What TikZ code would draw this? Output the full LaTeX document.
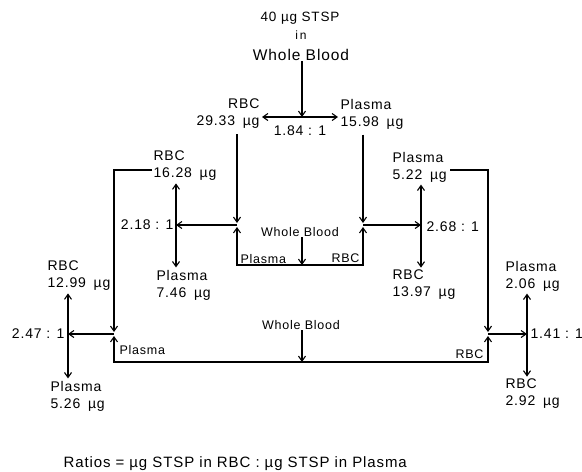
\documentclass[tikz,border=0pt]{standalone}
\usepackage{fontspec}
\setmainfont{Liberation Sans}[LetterSpace=6]
\usetikzlibrary{arrows.meta,calc}
\newcommand{\mcg}{\hspace{0.55em}µg}
\tikzset{
  lbl/.style={align=left,anchor=west,inner sep=0pt,font=\fontsize{14}{17}\selectfont},
  small/.style={inner sep=0pt,font=\fontsize{12.5}{14}\selectfont},
  ratio/.style={inner sep=0pt,font=\fontsize{14}{16}\selectfont},
}
\begin{document}
\begin{tikzpicture}[x=1pt,y=-1pt,>={Straight Barb[length=5pt,width=7pt]},line width=1.1pt]
  \useasboundingbox (0,0) rectangle (582,472);
  \coordinate (S0) at (302,117);
  \coordinate (J1) at (237,225);
  \coordinate (J2) at (363,225);
  \coordinate (A1) at (176,225);
  \coordinate (A2) at (421,225);
  \coordinate (B1L) at (237,265);
  \coordinate (B1R) at (363,265);
  \coordinate (C1) at (302,265);
  \coordinate (J3) at (114,334);
  \coordinate (J4) at (488,334);
  \coordinate (A3) at (68,334);
  \coordinate (A4) at (527,334);
  \coordinate (B2L) at (114,362);
  \coordinate (B2R) at (488,362);
  \coordinate (C2) at (302,362);
  % start
  \node[inner sep=0pt,font=\fontsize{13.5}{16}\selectfont] (stsp) at (300,18) {40 µg STSP};
  \node[inner sep=0pt,font=\fontsize{12}{14}\selectfont] (in) at (301,35) {i\,n};
  \node[inner sep=0pt,font=\fontsize{15.5}{18}\selectfont] (wb0) at (301,55) {Whole Blood};
  % first split
  \node[lbl,anchor=east,align=right] (rbc0) at (260,114) {RBC\\29.33\mcg};
  \node[lbl] (pl0) at (340,114) {Plasma\\15.98\mcg};
  \draw[->] (wb0.south -| S0) -- (S0);
  \draw[<->,shorten <=2pt,shorten >=2pt] (rbc0.east |- S0) -- (pl0.west |- S0);
  \node[ratio] (r0) at (300,131) {1.84 : 1};
  \draw[->,shorten <=5pt,shorten >=2pt] (rbc0.south -| J1) -- (J1);
  \draw[->,shorten <=5pt,shorten >=2pt] (pl0.south -| J2) -- (J2);
  % box 1
  \draw[<->,shorten <=2pt,shorten >=2pt] (J1) -- (B1L) -- (B1R) -- (J2);
  \node[small] (wb1) at (300,232) {Whole Blood};
  \draw[->] (wb1.south -| C1) -- (C1);
  \node[small,anchor=west] (pin1) at (240,259) {Plasma};
  \node[small,anchor=east] (rin1) at (360,258) {RBC};
  % middle left
  \node[lbl] (rbc1) at (153,166) {RBC\\16.28\mcg};
  \node[lbl] (pl1) at (156,285) {Plasma\\7.46\mcg};
  \draw[->] (J1) -- (A1);
  \draw[<->,shorten <=2pt,shorten >=2pt] (rbc1.south -| A1) -- (pl1.north -| A1);
  \node[ratio,anchor=east] (r1) at (174,225) {2.18 : 1};
  % middle right
  \node[lbl] (pl2) at (392,167) {Plasma\\5.22\mcg};
  \node[lbl] (rbc2) at (392,285) {RBC\\13.97\mcg};
  \draw[->] (J2) -- (A2);
  \draw[<->,shorten <=2pt,shorten >=2pt] (pl2.south -| A2) -- (rbc2.north -| A2);
  \node[ratio,anchor=west] (r2) at (426,227) {2.68 : 1};
  % box 2
  \draw[->,shorten >=2pt] ([xshift=-1pt,yshift=-4pt]rbc1.west) -| (J3);
  \draw[->,shorten >=2pt] ([xshift=3pt,yshift=-3pt]pl2.east) -| (J4);
  \draw[<->,shorten <=2pt,shorten >=2pt] (J3) -- (B2L) -- (B2R) -- (J4);
  \node[small] (wb2) at (301,325) {Whole Blood};
  \draw[->] (wb2.south -| C2) -- (C2);
  \node[small,anchor=west] (pin2) at (119,350) {Plasma};
  \node[small,anchor=east] (rin2) at (484,354) {RBC};
  % bottom left
  \node[lbl] (rbc3) at (47,276) {RBC\\12.99\mcg};
  \node[lbl] (pl3) at (50,396) {Plasma\\5.26\mcg};
  \draw[->] (J3) -- (A3);
  \draw[<->,shorten <=2pt,shorten >=2pt] (rbc3.south -| A3) -- (pl3.north -| A3);
  \node[ratio,anchor=east] (r3) at (65,334) {2.47 : 1};
  % bottom right
  \node[lbl] (pl4) at (505,276) {Plasma\\2.06\mcg};
  \node[lbl] (rbc4) at (505,394) {RBC\\2.92\mcg};
  \draw[->] (J4) -- (A4);
  \draw[<->,shorten <=2pt,shorten >=2pt] (pl4.south -| A4) -- (rbc4.north -| A4);
  \node[ratio,anchor=west] (r4) at (530,334) {1.41 : 1};
  % note
  \node[inner sep=0pt,font=\fontsize{15}{18}\selectfont,anchor=west] (note) at (63,464) {Ratios = µg STSP in RBC : µg STSP in Plasma};
\end{tikzpicture}
\end{document}
